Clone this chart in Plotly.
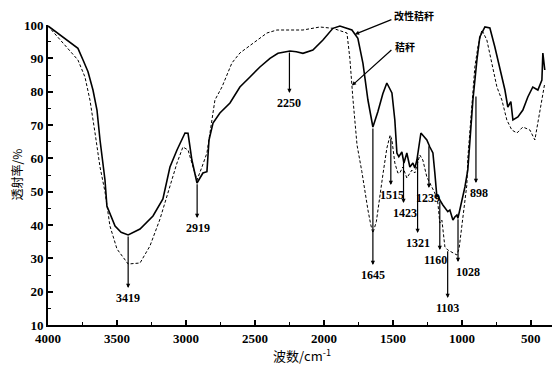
import numpy as np
import plotly.graph_objects as go

# 改性秸秆 (solid)
mod_wn = [4000, 3865, 3783, 3746, 3710, 3674, 3645, 3623, 3587, 3573, 3514, 3470, 3419, 3333, 3239,
          3167, 3116, 3065, 3007, 2985, 2957, 2920, 2877, 2848, 2833, 2804, 2754, 2681, 2609, 2536,
          2464, 2391, 2333, 2246, 2200, 2152, 2080, 2007, 1935, 1884, 1797, 1754, 1717, 1681, 1645,
          1609, 1573, 1544, 1507, 1486, 1471, 1457, 1435, 1420, 1399, 1377, 1355, 1341, 1326, 1297,
          1283, 1254, 1232, 1210, 1196, 1181, 1174, 1160, 1138, 1102, 1087, 1065, 1051, 1036, 1029,
          1000, 978, 957, 928, 920, 891, 870, 833, 797, 761, 725, 688, 667, 645, 630,
          594, 558, 522, 486, 449, 420, 413, 399]
mod_t = [99.7, 95.5, 93.0, 89.5, 86.0, 80.5, 74.5, 65.5, 53.5, 45.7, 39.7, 37.8, 37.0, 38.8, 42.7,
         47.8, 57.4, 62.5, 67.6, 67.5, 59.5, 52.6, 55.6, 56.0, 65.5, 70.6, 73.6, 76.6, 81.4, 84.4,
         87.4, 90.0, 91.5, 92.2, 92.0, 91.5, 92.5, 95.5, 99.0, 99.7, 98.5, 96.0, 88.5, 77.5, 69.4,
         74.0, 79.4, 82.6, 79.6, 71.5, 61.6, 60.5, 61.9, 58.6, 61.6, 57.4, 58.6, 57.1, 59.5, 67.6,
         67.0, 65.5, 63.4, 61.6, 55.6, 48.4, 49.0, 47.5, 46.0, 44.0, 44.5, 41.5, 42.4, 43.0, 42.0,
         47.5, 51.4, 56.5, 71.5, 77.5, 89.5, 96.4, 99.4, 99.1, 93.4, 87.4, 80.5, 75.4, 77.0, 71.5,
         72.4, 74.5, 78.4, 81.4, 80.5, 83.5, 91.6, 86.5]

# 秸秆 (dashed)
raw_wn = [4000, 3866, 3783, 3732, 3696, 3659, 3623, 3587, 3551, 3500, 3419, 3333, 3261, 3188, 3130,
          3065, 3022, 2985, 2957, 2920, 2884, 2848, 2826, 2790, 2739, 2667, 2609, 2514, 2413, 2341,
          2246, 2152, 2029, 1935, 1833, 1812, 1790, 1760, 1725, 1703, 1681, 1660, 1645, 1620, 1609,
          1573, 1544, 1520, 1507, 1486, 1464, 1450, 1428, 1399, 1362, 1341, 1305, 1283, 1254, 1232,
          1196, 1174, 1160, 1145, 1123, 1102, 1065, 1036, 1020, 1000, 978, 964, 957, 940, 928,
          920, 906, 884, 855, 819, 783, 746, 710, 674, 638, 601, 558, 507, 471, 449,
          420, 399]
raw_t = [99.7, 93.5, 89.5, 84.4, 77.5, 67.6, 57.4, 50.0, 39.7, 32.8, 28.3, 28.6, 33.7, 41.8, 50.0,
         58.6, 63.4, 62.5, 58.6, 53.5, 57.4, 61.6, 67.6, 77.5, 81.4, 88.6, 91.6, 94.6, 97.6, 98.5,
         98.5, 98.5, 99.4, 99.0, 97.6, 90.0, 78.0, 64.0, 56.0, 50.0, 44.5, 40.0, 37.6, 41.0, 44.5,
         55.0, 63.0, 67.0, 65.5, 58.6, 55.6, 55.6, 57.4, 54.1, 56.5, 55.6, 61.0, 59.5, 54.4, 52.6,
         49.6, 46.6, 40.6, 41.5, 33.4, 32.5, 31.6, 31.0, 33.0, 40.0, 47.5, 52.0, 60.0, 70.0, 74.5,
         81.4, 87.4, 93.4, 98.5, 95.5, 88.6, 81.4, 77.5, 71.5, 68.5, 67.6, 69.4, 68.5, 65.5, 70.6,
         78.4, 82.6]

peak_labels = ["3419", "2919", "2250", "1645", "1515", "1423", "1321", "1239", "1160", "1103", "1028", "898"]
peak_wn = [3419, 2919, 2250, 1645, 1515, 1423, 1321, 1239, 1160, 1103, 1028, 898]
peak_series = ["mod", "mod", "mod", "mod", "raw", "mod", "mod", "mod", "mod", "raw", "mod", "mod"]

x_ticks = [4000, 3500, 3000, 2500, 2000, 1500, 1000, 500]
y_ticks = [10, 20, 30, 40, 50, 60, 70, 80, 90, 100]

series_label_mod = "改性秸秆"
series_label_raw = "秸秆"

# layout helpers (arrow bottom value, label x offset px)
arrow_end = [21.1, 42.1, 79.6, 28.0, 52.0, 46.6, 37.6, 51.1, 32.5, 18.1, 28.9, 52.6]
label_dx = [0, 1, 0, 0, 1, 1, 0, -1, -4, 0, 10, 3]

fig = go.Figure()
fig.add_trace(go.Scatter(x=raw_wn, y=raw_t, mode="lines", name=series_label_raw,
                         line=dict(color="black", width=1, dash="3px,2px")))
fig.add_trace(go.Scatter(x=mod_wn, y=mod_t, mode="lines", name=series_label_mod,
                         line=dict(color="black", width=1.6)))

mod_wn_r, mod_t_r = mod_wn[::-1], mod_t[::-1]
raw_wn_r, raw_t_r = raw_wn[::-1], raw_t[::-1]

def curve_val(s, w):
    if s == "mod":
        return float(np.interp(w, mod_wn_r, mod_t_r))
    return float(np.interp(w, raw_wn_r, raw_t_r))

ann = []
lab_font = dict(family="Liberation Serif", size=12, color="black", weight="bold")
for lab, w, s, yend, dx in zip(peak_labels, peak_wn, peak_series, arrow_end, label_dx):
    top = curve_val(s, w)
    if lab == "898":
        top = 79
    ann.append(dict(x=w, y=yend, ax=w, ay=top, axref="x", ayref="y", xref="x", yref="y",
                    text="", showarrow=True, arrowhead=2, arrowsize=0.7, arrowwidth=1.2,
                    arrowcolor="black"))
    ann.append(dict(x=w, y=yend, xref="x", yref="y", text=lab, showarrow=False,
                    xanchor="center", yanchor="top", xshift=dx, yshift=-1, font=lab_font))

# series labels with arrows
cjk = dict(family="Noto Sans CJK SC", size=10, color="black", weight="bold")
ann.append(dict(x=1775, y=curve_val("mod", 1775), ax=1500, ay=101.8, axref="x", ayref="y",
                xref="x", yref="y", text="", showarrow=True, arrowhead=2, arrowsize=0.7,
                arrowwidth=1.2, arrowcolor="black"))
ann.append(dict(x=0.679, y=1.031, xref="paper", yref="paper", text=series_label_mod, showarrow=False,
                xanchor="left", yanchor="middle", font=cjk))
ann.append(dict(x=1797, y=curve_val("raw", 1797), ax=1500, ay=92.9, axref="x", ayref="y",
                xref="x", yref="y", text="", showarrow=True, arrowhead=2, arrowsize=0.7,
                arrowwidth=1.2, arrowcolor="black"))
ann.append(dict(x=1497, y=93.6, xref="x", yref="y", text=series_label_raw, showarrow=False,
                xanchor="left", yanchor="middle", font=cjk))

# axis titles
ann.append(dict(x=-0.064, y=0.5, xref="paper", yref="paper", text="透射率/%", textangle=-90,
                showarrow=False, xanchor="center", yanchor="middle",
                font=dict(family="Noto Sans CJK SC", size=12, color="black")))
ann.append(dict(x=0.5, y=-0.1, xref="paper", yref="paper", text="波数/cm<sup>-1</sup>",
                showarrow=False, xanchor="center", yanchor="middle",
                font=dict(family="Noto Sans CJK SC, Liberation Serif", size=13, color="black")))

tick_font = dict(family="Liberation Serif", size=13, color="black", weight="bold")
fig.update_layout(
    width=552, height=364,
    margin=dict(l=40, r=5, t=17, b=47),
    paper_bgcolor="white", plot_bgcolor="white",
    showlegend=False,
    annotations=ann,
    xaxis=dict(range=[4000, 325], tickvals=x_ticks, ticks="inside", ticklen=5, tickwidth=1.5,
               tickcolor="black", showline=True, linewidth=2, linecolor="black",
               showgrid=False, zeroline=False, tickfont=tick_font,
               minor=dict(dtick=250, tick0=0, ticks="inside", ticklen=3, tickwidth=1.2, tickcolor="black")),
    yaxis=dict(range=[10, 100], tickvals=y_ticks, ticks="inside", ticklen=5, tickwidth=1.5,
               tickcolor="black", showline=True, linewidth=2, linecolor="black",
               showgrid=False, zeroline=False, tickfont=tick_font,
               minor=dict(dtick=5, tick0=0, ticks="inside", ticklen=3, tickwidth=1.2, tickcolor="black")),
)

fig.write_html("out.html")
